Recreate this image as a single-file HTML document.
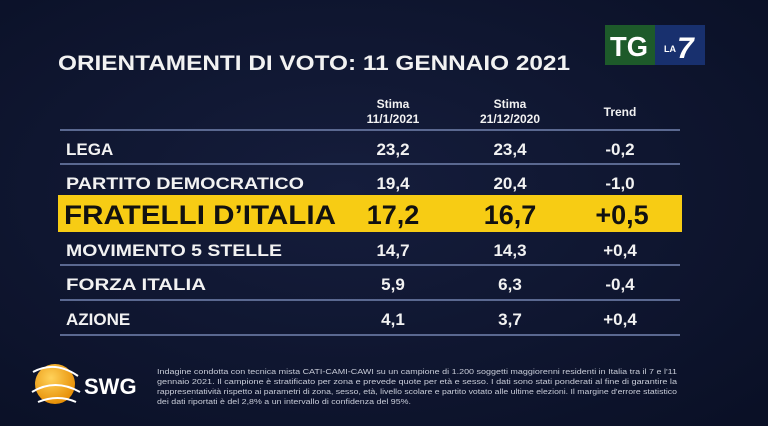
<!DOCTYPE html>
<html><head><meta charset="utf-8"><style>
html,body{margin:0;padding:0;background:#0e1530;}
svg{display:block}
text{font-family:"Liberation Sans",sans-serif;font-weight:bold;fill:#f2f2f2}
</style></head><body>
<svg width="768" height="426" viewBox="0 0 768 426" xmlns="http://www.w3.org/2000/svg">
<defs>
<radialGradient id="bg" cx="0.45" cy="0.45" r="0.75">
<stop offset="0" stop-color="#151d3c"/><stop offset="1" stop-color="#0a1026"/></radialGradient>
<radialGradient id="orb" cx="0.4" cy="0.35" r="0.7">
<stop offset="0" stop-color="#ffd25a"/><stop offset="1" stop-color="#e58a00"/></radialGradient>
</defs>
<rect width="768" height="426" fill="url(#bg)"/>
<!-- logo -->
<rect x="605" y="25" width="50" height="40" fill="#1d5a2a"/>
<rect x="655" y="25" width="50" height="40" fill="#18306e"/>
<text x="610" y="56" font-size="28" textLength="38" lengthAdjust="spacingAndGlyphs" style="fill:#fff">TG</text>
<text x="664" y="52" font-size="9" style="fill:#fff">LA</text>
<text x="677" y="58" font-size="30" style="fill:#fff;font-style:italic">7</text>
<!-- title -->
<text x="58" y="70" font-size="21" textLength="512" lengthAdjust="spacingAndGlyphs">ORIENTAMENTI DI VOTO: 11 GENNAIO 2021</text>
<!-- headers -->
<g font-size="12" text-anchor="middle">
<text x="393" y="108">Stima</text><text x="393" y="123">11/1/2021</text>
<text x="510" y="108">Stima</text><text x="510" y="123">21/12/2020</text>
<text x="620" y="116">Trend</text>
</g>
<g stroke="#5a6890" stroke-width="2">
<line x1="60" y1="130" x2="680" y2="130"/>
<line x1="60" y1="164" x2="680" y2="164"/>
<line x1="60" y1="265" x2="680" y2="265"/>
<line x1="60" y1="300" x2="680" y2="300"/>
<line x1="60" y1="335" x2="680" y2="335"/>
</g>
<rect x="58" y="195" width="624" height="37" fill="#f7cc14"/>
<g font-size="17">
<text x="66" y="155">LEGA</text>
<text x="66" y="189" textLength="238" lengthAdjust="spacingAndGlyphs">PARTITO DEMOCRATICO</text>
<text x="66" y="256" textLength="216" lengthAdjust="spacingAndGlyphs">MOVIMENTO 5 STELLE</text>
<text x="66" y="290" textLength="140" lengthAdjust="spacingAndGlyphs">FORZA ITALIA</text>
<text x="66" y="325">AZIONE</text>
</g>
<g font-size="17" text-anchor="middle">
<text x="393" y="155">23,2</text><text x="510" y="155">23,4</text><text x="620" y="155">-0,2</text>
<text x="393" y="189">19,4</text><text x="510" y="189">20,4</text><text x="620" y="189">-1,0</text>
<text x="393" y="256">14,7</text><text x="510" y="256">14,3</text><text x="620" y="256">+0,4</text>
<text x="393" y="290">5,9</text><text x="510" y="290">6,3</text><text x="620" y="290">-0,4</text>
<text x="393" y="325">4,1</text><text x="510" y="325">3,7</text><text x="620" y="325">+0,4</text>
</g>
<g font-size="27" style="fill:#111" >
<text x="64" y="224" textLength="272" lengthAdjust="spacingAndGlyphs" style="fill:#111">FRATELLI D’ITALIA</text>
<text x="393" y="224" text-anchor="middle" style="fill:#111">17,2</text>
<text x="510" y="224" text-anchor="middle" style="fill:#111">16,7</text>
<text x="622" y="224" text-anchor="middle" style="fill:#111">+0,5</text>
</g>
<!-- SWG -->
<circle cx="55" cy="384" r="20" fill="url(#orb)"/>
<path d="M33 372 Q55 360 78 376 M32 392 Q55 378 80 392 M38 402 Q58 394 76 402" stroke="#fff" stroke-width="2" fill="none"/>
<text x="84" y="394" font-size="22" style="fill:#fff">SWG</text>
<g font-size="7" style="font-weight:normal;fill:#c8ccd8">
<text x="157" y="374" textLength="520" lengthAdjust="spacingAndGlyphs" style="font-weight:normal;fill:#c8ccd8">Indagine condotta con tecnica mista CATI-CAMI-CAWI su un campione di 1.200 soggetti maggiorenni residenti in Italia tra il 7 e l'11</text>
<text x="157" y="384" textLength="520" lengthAdjust="spacingAndGlyphs" style="font-weight:normal;fill:#c8ccd8">gennaio 2021. Il campione è stratificato per zona e prevede quote per età e sesso. I dati sono stati ponderati al fine di garantire la</text>
<text x="157" y="394" textLength="520" lengthAdjust="spacingAndGlyphs" style="font-weight:normal;fill:#c8ccd8">rappresentatività rispetto ai parametri di zona, sesso, età, livello scolare e partito votato alle ultime elezioni. Il margine d'errore statistico</text>
<text x="157" y="404" textLength="254" lengthAdjust="spacingAndGlyphs" style="font-weight:normal;fill:#c8ccd8">dei dati riportati è del 2,8% a un intervallo di confidenza del 95%.</text>
</g>
</svg>
</body></html>
